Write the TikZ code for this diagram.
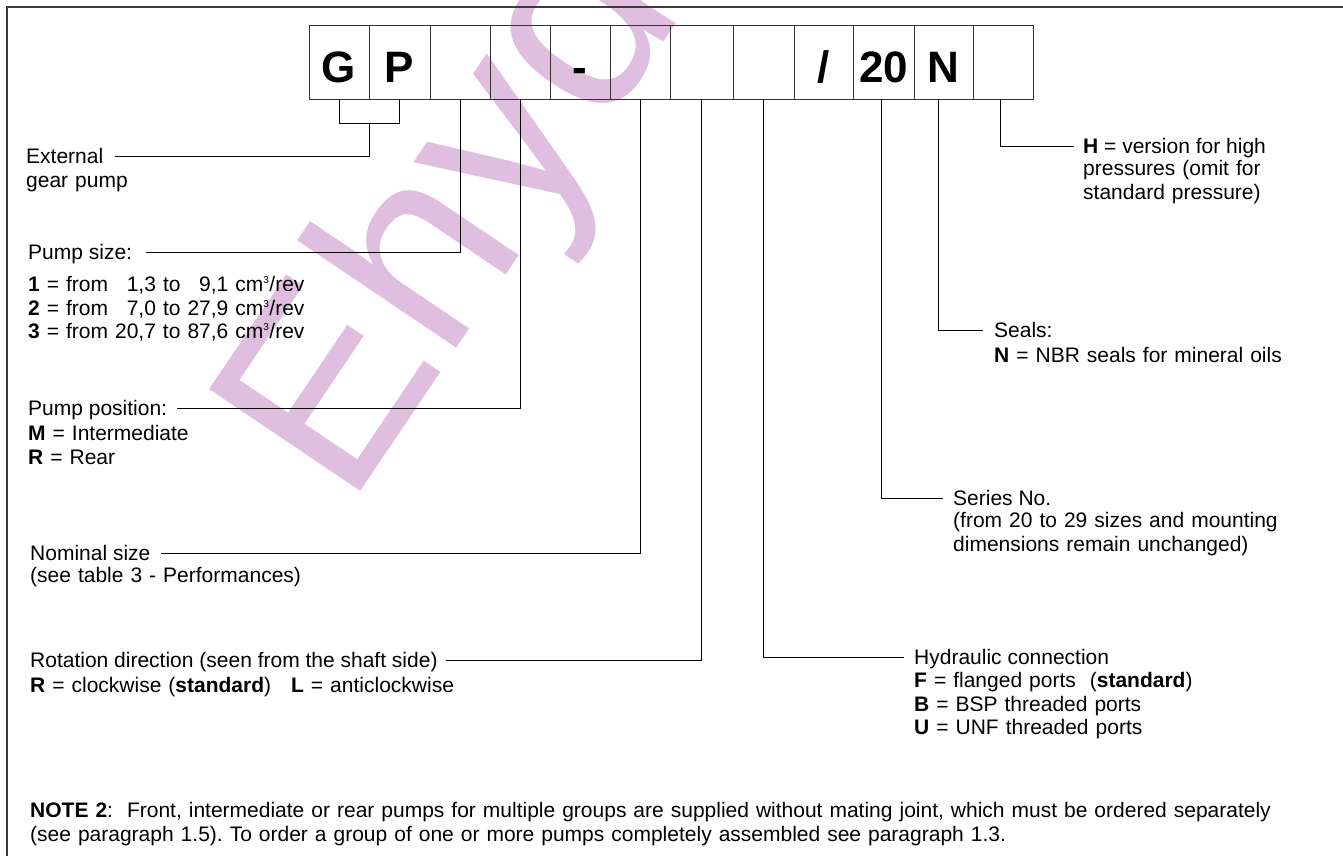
\documentclass[tikz,border=0pt]{standalone}
\usepackage{fontspec}
\setmainfont{Liberation Sans}
\usetikzlibrary{positioning}

\definecolor{wmpink}{RGB}{224,190,224}
\definecolor{framegray}{RGB}{60,60,60}
\newcommand{\cubed}{\textsuperscript{\fontsize{10}{10}\selectfont 3}}

\tikzset{
  cell/.style={draw=black!80, line width=0.8pt, minimum width=60pt, minimum height=74pt,
    inner sep=0pt, outer sep=0pt, text height=42pt, text depth=0pt,
    font=\fontsize{44}{44}\selectfont\bfseries},
  ttl/.style={anchor=west, inner sep=0pt, text height=15pt, text depth=0pt,
    font=\fontsize{21}{23.5}\selectfont},
  dsc/.style={anchor=base west, inner sep=0pt, text width=1280pt, align=left,
    font=\fontsize{21}{23.5}\selectfont\frenchspacing},
  lead/.style={draw=black, line width=0.8pt},
  wm/.style={text=wmpink, inner sep=0pt, anchor=base west, rotate=56,
    font=\fontsize{265}{265}\selectfont},
}

\begin{document}
\begin{tikzpicture}[x=1pt, y=-1pt]
  \useasboundingbox (0,0) rectangle (1343,856);
  % watermark
  \begin{scope}
    \clip (0,0) rectangle (1343,856);
    \node[wm] (mark) at (348,510) {Ehyd};
  \end{scope}
  \draw[framegray, line width=1.2pt] (7,856) -- (7,7) -- (1343,7);

  % code boxes
  \node[cell, anchor=north west] (g) at (309,25) {G};
  \node[cell, minimum width=61pt, right=0pt of g] (p) {P};
  \node[cell, right=0pt of p] (s) {};
  \node[cell, right=0pt of s] (m) {};
  \node[cell, right=0pt of m] (d) {-};
  \node[cell, right=0pt of d] (n) {};
  \node[cell, minimum width=63pt, right=0pt of n] (r) {};
  \node[cell, minimum width=61pt, right=0pt of r] (h) {};
  \node[cell, minimum width=59pt, right=0pt of h] (sl) {/};
  \node[cell, minimum width=61pt, right=0pt of sl] (sr) {20};
  \node[cell, minimum width=59pt, right=0pt of sr] (se) {N};
  \node[cell, right=0pt of se] (hp) {};

  % left labels
  \node[ttl] (ext) at (26,156) {External};
  \node[dsc] (extd) at ([yshift=-24pt]ext.base west) {gear pump};
  \node[ttl] (lsize) at (28,252) {Pump size:};
  \node[dsc] (lsized) at ([yshift=-32pt]lsize.base west)
    {\textbf{1} = from \phantom{2}1,3 to \phantom{2}9,1 cm\cubed/rev\\
     \textbf{2} = from \phantom{2}7,0 to 27,9 cm\cubed/rev\\
     \textbf{3} = from 20,7 to 87,6 cm\cubed/rev};
  \node[ttl] (lpos) at (28,408) {Pump position:};
  \node[dsc] (lposd) at ([yshift=-25pt]lpos.base west)
    {\textbf{M} = Intermediate\\ \textbf{R} = Rear};
  \node[ttl] (lnom) at (30,553) {Nominal size};
  \node[dsc] (lnomd) at ([yshift=-22pt]lnom.base west) {(see table 3 - Performances)};
  \node[ttl] (lrot) at (30,660) {Rotation direction (seen from the shaft side)};
  \node[dsc] (lrotd) at ([yshift=-25pt]lrot.base west)
    {\textbf{R} = clockwise (\textbf{standard})\hspace{20pt}\textbf{L} = anticlockwise};

  % right labels
  \node[ttl] (lhp) at (1083,146) {\textbf{H} = version for high};
  \node[dsc] (lhpd) at ([yshift=-22pt]lhp.base west)
    {pressures (omit for\\ standard pressure)};
  \node[ttl] (lseal) at (994,330) {Seals:};
  \node[dsc] (lseald) at ([yshift=-25pt]lseal.base west)
    {\textbf{N} = NBR seals for mineral oils};
  \node[ttl] (lser) at (953,498) {Series No.};
  \node[dsc] (lserd) at ([yshift=-22pt]lser.base west)
    {(from 20 to 29 sizes and mounting\\ dimensions remain unchanged)};
  \node[ttl] (lconn) at (914,657) {Hydraulic connection};
  \node[dsc] (lconnd) at ([yshift=-23pt]lconn.base west)
    {\textbf{F} = flanged ports\ \ (\textbf{standard})\\
     \textbf{B} = BSP threaded ports\\ \textbf{U} = UNF threaded ports};

  % note
  \node[dsc] (note) at (30,817.5)
    {\textbf{NOTE 2}:\ \ Front, intermediate or rear pumps for multiple groups are supplied without mating joint, which must be ordered separately\\
     (see paragraph 1.5). To order a group of one or more pumps completely assembled see paragraph 1.3.};

  % leader lines
  \draw[lead] (g.south) -- ++(0,24) -| (p.south);
  \draw[lead] (g.south east) ++(0,24) |- ([xshift=12pt]ext.east);
  \draw[lead] (s.south) |- ([xshift=14pt]lsize.east);
  \draw[lead] (m.south) |- ([xshift=10pt]lpos.east);
  \draw[lead] (n.south) |- ([xshift=10pt]lnom.east);
  \draw[lead] (r.south) |- ([xshift=8pt]lrot.east);
  \draw[lead] (h.south) |- ([xshift=-10pt]lconn.west);
  \draw[lead] ([xshift=-2pt]sr.south) |- ([xshift=-10pt]lser.west);
  \draw[lead] ([xshift=-5pt]se.south) |- ([xshift=-11pt]lseal.west);
  \draw[lead] ([xshift=-3pt]hp.south) |- ([xshift=-9pt]lhp.west);
\end{tikzpicture}
\end{document}
